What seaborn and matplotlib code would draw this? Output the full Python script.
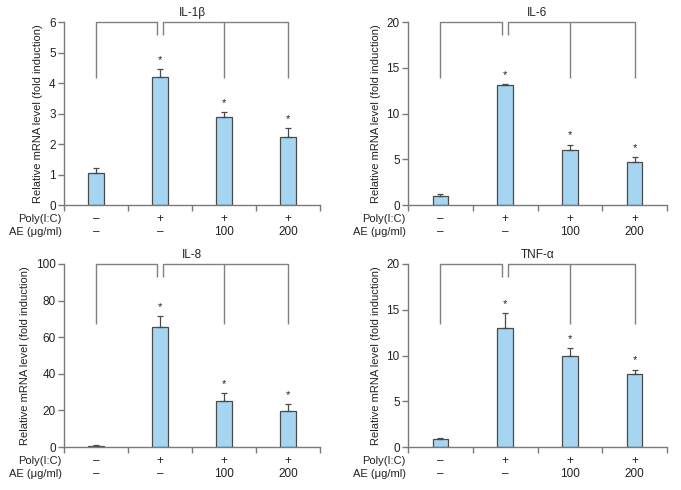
import matplotlib
matplotlib.use("Agg")
import matplotlib.pyplot as plt
import seaborn as sns
import pandas as pd
import numpy as np

sns.set_style("white")
plt.rcParams['font.family'] = ['Liberation Sans', 'DejaVu Sans']

# ---- data ----
conditions = ["ctrl", "poly", "poly_ae100", "poly_ae200"]
poly_labels = ["\u2013", "+", "+", "+"]
ae_labels = ["\u2013", "\u2013", "100", "200"]

il1b_mean = [1.05, 4.2, 2.9, 2.22]
il1b_err = [0.15, 0.25, 0.15, 0.3]
il6_mean = [1.0, 13.15, 6.0, 4.7]
il6_err = [0.2, 0.1, 0.6, 0.55]
il8_mean = [0.8, 65.5, 25.0, 19.8]
il8_err = [0.5, 6.0, 4.5, 3.5]
tnfa_mean = [0.85, 13.0, 10.0, 7.95]
tnfa_err = [0.1, 1.6, 0.8, 0.5]

titles = ["IL-1\u03b2", "IL-6", "IL-8", "TNF-\u03b1"]
means = [il1b_mean, il6_mean, il8_mean, tnfa_mean]
errs = [il1b_err, il6_err, il8_err, tnfa_err]
ymaxes = [6, 20, 100, 20]
ysteps = [1, 5, 20, 5]
bracket_low = [4.15, 13.85, 67, 13.4]

W, H = 681, 490
fig = plt.figure(figsize=(W / 100, H / 100), dpi=100)

# axes boxes in pixels: left, right, top, bottom
boxes = [(64, 320, 22, 205), (408, 667, 22, 205),
         (64, 320, 264, 447), (408, 667, 264, 447)]

bar_color = "#a6d5f2"
edge_color = "#4a4a4a"
axis_color = "#7a7a7a"
bracket_color = "#808080"
text_color = "#222222"

for i in range(4):
    l, r, t, b = boxes[i]
    ax = fig.add_axes([l / W, (H - b) / H, (r - l) / W, (b - t) / H])
    df = pd.DataFrame({"cond": conditions, "val": means[i]})
    sns.barplot(data=df, x="cond", y="val", ax=ax, color=bar_color,
                width=0.24, edgecolor=edge_color, linewidth=0.9,
                errorbar=None, saturation=1)
    x = np.arange(4)
    ax.errorbar(x, means[i], yerr=[np.zeros(4), errs[i]], fmt="none",
                ecolor=edge_color, elinewidth=0.9, capsize=2.3, capthick=0.9)
    ymax = ymaxes[i]
    ax.set_ylim(0, ymax)
    ax.set_xlim(-0.5, 3.5)
    ax.set_yticks(np.arange(0, ymax + 0.001, ysteps[i]))
    ax.set_xticks([-0.5, 0.5, 1.5, 2.5, 3.5])
    ax.set_xticklabels([])
    ax.set_xlabel("")
    ax.set_ylabel("Relative mRNA level (fold induction)", fontsize=8,
                  color=text_color, labelpad=4)
    for s in ["top", "right"]:
        ax.spines[s].set_visible(False)
    for s in ["left", "bottom"]:
        ax.spines[s].set_color(axis_color)
        ax.spines[s].set_linewidth(1.0)
    ax.tick_params(axis="y", left=True, direction="out", length=4, width=1,
                   color=axis_color, labelsize=8.5, labelcolor=text_color, pad=2)
    ax.tick_params(axis="x", bottom=True, direction="out", length=4, width=1,
                   color=axis_color)
    ax.set_title(titles[i], fontsize=8.5, color=text_color, pad=4)

    # asterisks
    for j in range(1, 4):
        ax.annotate("*", (x[j], means[i][j] + errs[i][j]),
                    xytext=(0, 3), textcoords="offset points",
                    ha="center", va="bottom", fontsize=8, color=text_color)

    # brackets
    lo = bracket_low[i]
    gap_low = ymax * 0.93
    kw = dict(color=bracket_color, lw=1.0, clip_on=False, solid_capstyle="butt")
    ax.plot([x[0], x[0], x[1] - 0.045, x[1] - 0.045], [lo, ymax, ymax, gap_low], **kw)
    ax.plot([x[1] + 0.045, x[1] + 0.045, x[3], x[3]], [gap_low, ymax, ymax, lo], **kw)
    ax.plot([x[2], x[2]], [ymax, lo], **kw)

    # condition labels
    trans = ax.get_xaxis_transform()
    y1 = -14 / (b - t)
    y2 = -27 / (b - t)
    for j in range(4):
        ax.text(x[j], y1, poly_labels[j], transform=trans, ha="center",
                va="center", fontsize=8.5, color=text_color)
        ax.text(x[j], y2, ae_labels[j], transform=trans, ha="center",
                va="center", fontsize=8.5, color=text_color)
    ax.text(-0.008, y1, "Poly(I:C)", transform=ax.transAxes, ha="right",
            va="center", fontsize=8, color=text_color)
    ax.text(-0.008, y2, "AE (\u03bcg/ml)", transform=ax.transAxes, ha="right",
            va="center", fontsize=8, color=text_color)

fig.savefig("out.png", dpi=100, facecolor="white")
